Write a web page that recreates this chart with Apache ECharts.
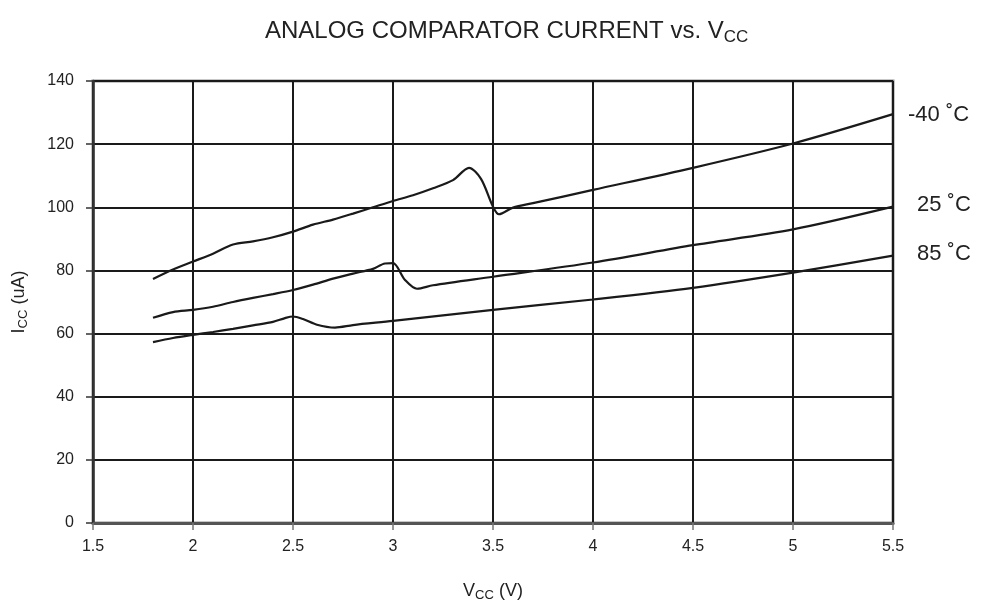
<!DOCTYPE html>
<html><head><meta charset="utf-8">
<script src="https://cdn.jsdelivr.net/npm/echarts@6/dist/echarts.min.js"></script>
<style>html,body{margin:0;padding:0;background:#fff}#c{width:989px;height:607px}</style>
</head><body><div id="c"></div>
<script>
const seriesNames = ['-40 ˚C', '25 ˚C', '85 ˚C'];
const vMinus40 = [1.8, 1.9, 2.0, 2.1, 2.2, 2.3, 2.4, 2.5, 2.6, 2.7, 2.8, 2.9, 3.0, 3.1, 3.2, 3.3, 3.38, 3.44, 3.5, 3.53, 3.6, 3.7, 4.0, 4.5, 5.0, 5.5];
const iMinus40 = [77.3, 80.3, 82.8, 85.3, 88.2, 89.2, 90.5, 92.3, 94.5, 96.1, 98.0, 100.0, 102.0, 103.8, 106.0, 108.6, 112.5, 109.0, 100.2, 97.8, 99.9, 101.3, 105.5, 112.5, 120.2, 129.5];
const v25 = [1.8, 1.9, 2.0, 2.1, 2.2, 2.3, 2.4, 2.5, 2.6, 2.7, 2.8, 2.9, 2.96, 3.0, 3.06, 3.12, 3.2, 3.5, 4.0, 4.5, 5.0, 5.5];
const i25 = [65.0, 66.8, 67.5, 68.5, 70.0, 71.3, 72.5, 73.8, 75.5, 77.4, 79.0, 80.5, 82.2, 82.3, 77.0, 74.2, 75.3, 78.0, 82.5, 88.0, 93.0, 100.2];
const v85 = [1.8, 1.9, 2.0, 2.1, 2.2, 2.3, 2.4, 2.46, 2.5, 2.55, 2.62, 2.71, 2.8, 3.0, 3.5, 4.0, 4.5, 5.0, 5.5];
const i85 = [57.3, 58.6, 59.6, 60.5, 61.5, 62.6, 63.7, 64.9, 65.4, 64.6, 62.8, 61.9, 62.7, 64.0, 67.5, 70.8, 74.5, 79.3, 84.7];
const xTicks = {min: 1.5, max: 5.5, interval: 0.5};
const yTicks = {min: 0, max: 140, interval: 20};

function pairs(xs, ys){ return xs.map((x,i)=>[x, ys[i]]); }
const dataSets = [pairs(vMinus40, iMinus40), pairs(v25, i25), pairs(v85, i85)];
const labelDistance = [15, 24, 24];

const chart = echarts.init(document.getElementById('c'), null, {renderer:'canvas'});
const fontFamily = 'Liberation Sans, Arial, sans-serif';
chart.setOption({
  animation: false,
  backgroundColor: '#fff',
  title: {
    text: '{a|ANALOG COMPARATOR CURRENT vs. V}{b|CC}',
    left: 260, top: 12,
    textStyle: {
      rich: {
        a: {fontSize: 24, color: '#222', fontFamily, fontWeight: 'normal'},
        b: {fontSize: 17, color: '#222', fontFamily, fontWeight: 'normal', padding: [12, 0, 0, 0]}
      }
    }
  },
  grid: {left: 93, right: 96, top: 81, bottom: 84, containLabel: false, outerBoundsMode: 'none', show: true, borderColor: '#8c8f92', borderWidth: 3, backgroundColor: 'transparent'},
  xAxis: {
    type: 'value', min: xTicks.min, max: xTicks.max, interval: xTicks.interval,
    name: '{a|V}{b|CC}{a| (V)}', nameLocation: 'middle', nameGap: 58,
    nameTextStyle: {rich: {a: {fontSize: 18, color: '#222', fontFamily}, b: {fontSize: 13, color: '#222', fontFamily, padding: [8,0,0,0]}}},
    axisLine: {show: true, lineStyle: {color: '#555', width: 3}},
    axisTick: {show: true, length: 7, lineStyle: {color: '#777', width: 1.5}},
    axisLabel: {fontSize: 16, color: '#222', fontFamily, margin: 16},
    splitLine: {show: true, lineStyle: {color: '#1a1a1a', width: 2}}
  },
  yAxis: {
    type: 'value', min: yTicks.min, max: yTicks.max, interval: yTicks.interval,
    name: '{a|I}{b|CC}{a| (uA)}', nameLocation: 'middle', nameGap: 63, nameRotate: 90,
    nameTextStyle: {rich: {a: {fontSize: 18, color: '#222', fontFamily}, b: {fontSize: 13, color: '#222', fontFamily, padding: [8,0,0,0]}}},
    axisLine: {show: true, lineStyle: {color: '#333', width: 2.5}},
    axisTick: {show: true, length: 7, lineStyle: {color: '#333', width: 1.5}},
    axisLabel: {fontSize: 16, color: '#222', fontFamily, margin: 19},
    splitLine: {show: true, lineStyle: {color: '#1a1a1a', width: 2}}
  },
  series: dataSets.map((d, k) => ({
    type: 'line', name: seriesNames[k], data: d, smooth: 0.3, showSymbol: false,
    lineStyle: {color: '#1a1a1a', width: 2.2},
    endLabel: {show: true, formatter: seriesNames[k], fontSize: 22, color: '#222', fontFamily, distance: labelDistance[k], offset: [0, k === 0 ? 1 : -2]}
  }))
});
</script></body></html>
